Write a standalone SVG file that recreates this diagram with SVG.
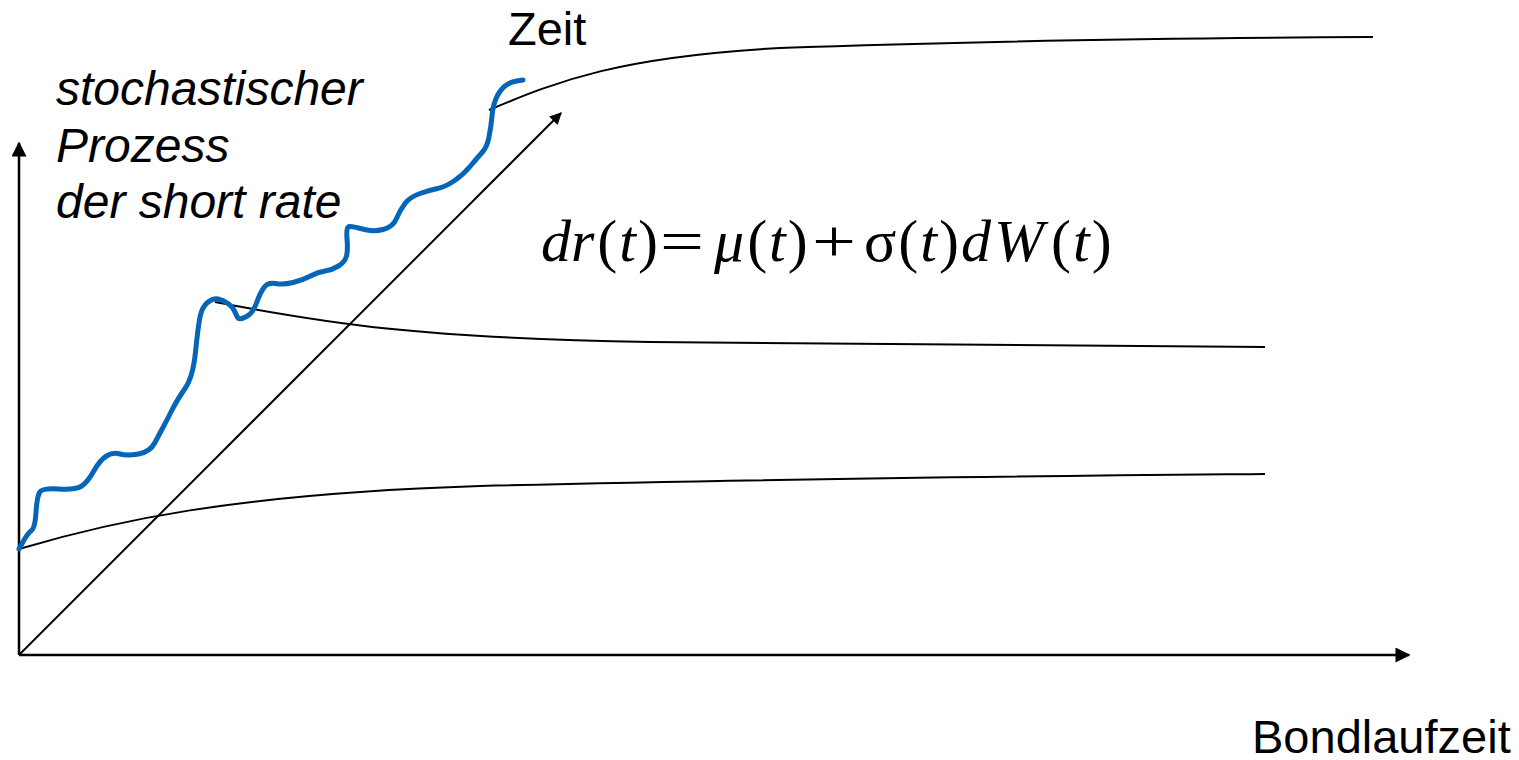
<svg xmlns="http://www.w3.org/2000/svg" width="1519" height="760" viewBox="0 0 1519 760">
<style>
.ax{stroke:#000;stroke-width:2.5;fill:none}
.cv{stroke:#000;stroke-width:2;fill:none}
.bl{stroke:#0565B8;stroke-width:5;fill:none;stroke-linejoin:round;stroke-linecap:round}
.lab{font-family:"Liberation Sans",Arial,sans-serif;font-size:47px;fill:#000}
.it{font-style:italic;font-size:48px}
.m{font-family:"Liberation Serif","Times New Roman",serif;font-size:60px;fill:#000}
.i{font-style:italic}
</style>
<defs>
<marker id="ah" viewBox="0 0 10 10" refX="9" refY="5" markerWidth="7" markerHeight="6" markerUnits="strokeWidth" orient="auto">
<path d="M0,0 L10,5 L0,10 z" fill="#000"/>
</marker>
</defs>
<g id="connectors">
<line class="ax" x1="19" y1="655" x2="19" y2="143" marker-end="url(#ah)"/>
<line class="ax" x1="19" y1="655" x2="1409" y2="655" marker-end="url(#ah)"/>
<line class="cv" x1="19" y1="655" x2="561" y2="113" marker-end="url(#ah)"/>
</g>
<g id="curve-bottom">
<path class="cv" d="M19,549 C110,522 230,494 480,486 C800,478 1050,476 1265,474"/>
</g>
<g id="curve-middle">
<path class="cv" d="M215,302 C330,324 420,338 650,342 C900,345 1100,347 1265,347"/>
</g>
<g id="curve-top">
<path class="cv" d="M489,110 C560,80 620,57 780,48 C1000,40 1200,38 1373,37"/>
</g>
<g id="short-rate-path">
<path class="bl" d="M19,549 L23.5,541 Q28,533 31.5,530.5 Q35,528 36,512.5 Q37,497 39.5,492.5 Q42,488 58.5,489 Q75,490 81,486.5 Q87,483 93.5,471.5 Q100,460 106.5,456 Q113,452 120,454 Q127,456 138.5,454 Q150,452 155,442.5 Q160,433 163.5,426.5 Q167,420 172,410 Q177,400 185,388.5 Q193,377 195.5,352 Q198,327 200,317 Q202,307 207.5,302.5 Q213,298 218,299 Q223,300 228,303.5 Q233,307 235,312 Q237,317 238.5,318.5 Q240,320 246.5,316.5 Q253,313 256.5,303 Q260,293 264,287.5 Q268,282 275.5,283.5 Q283,285 293,282.5 Q303,280 310.5,276 Q318,272 325,271 Q332,270 338.5,266 Q345,262 346.5,256 Q348,250 347,238.5 Q346,227 349,226.5 Q352,226 362.5,229 Q373,232 383,229.5 Q393,227 396.5,218.5 Q400,210 405,203.5 Q410,197 420,193.5 Q430,190 437.5,188.5 Q445,187 454,181 Q463,175 470.5,166 Q478,157 482.5,152 Q487,147 489,137 Q491,127 492,116 Q493,105 496.5,97.5 Q500,90 505,86 Q510,82 516.5,81 L523,80"/>
</g>
<g id="labels">
<text class="lab" x="508" y="45">Zeit</text>
<text class="lab" x="1252" y="753">Bondlaufzeit</text>
<text class="lab it" x="56" y="105">stochastischer</text>
<text class="lab it" x="56" y="162">Prozess</text>
<text class="lab it" x="56" y="218">der short rate</text>
</g>
<g id="formula">
<text class="m" x="541" y="261"><tspan class="i">dr</tspan><tspan dx="3">(</tspan><tspan class="i" dx="2">t</tspan><tspan dx="2">)</tspan></text>
<text class="m" transform="translate(660,261) scale(1.3,1)">=</text>
<text class="m" x="714" y="261"><tspan class="i">μ</tspan><tspan dx="3">(</tspan><tspan class="i" dx="2">t</tspan><tspan dx="2">)</tspan></text>
<text class="m" transform="translate(812,261) scale(1.3,1)">+</text>
<text class="m" x="864" y="261">σ<tspan dx="2">(</tspan><tspan class="i" dx="2">t</tspan><tspan dx="2">)</tspan><tspan class="i" dx="2">d</tspan><tspan class="i" dx="3">W</tspan><tspan dx="7">(</tspan><tspan class="i" dx="2">t</tspan><tspan dx="2">)</tspan></text>
</g>
</svg>
